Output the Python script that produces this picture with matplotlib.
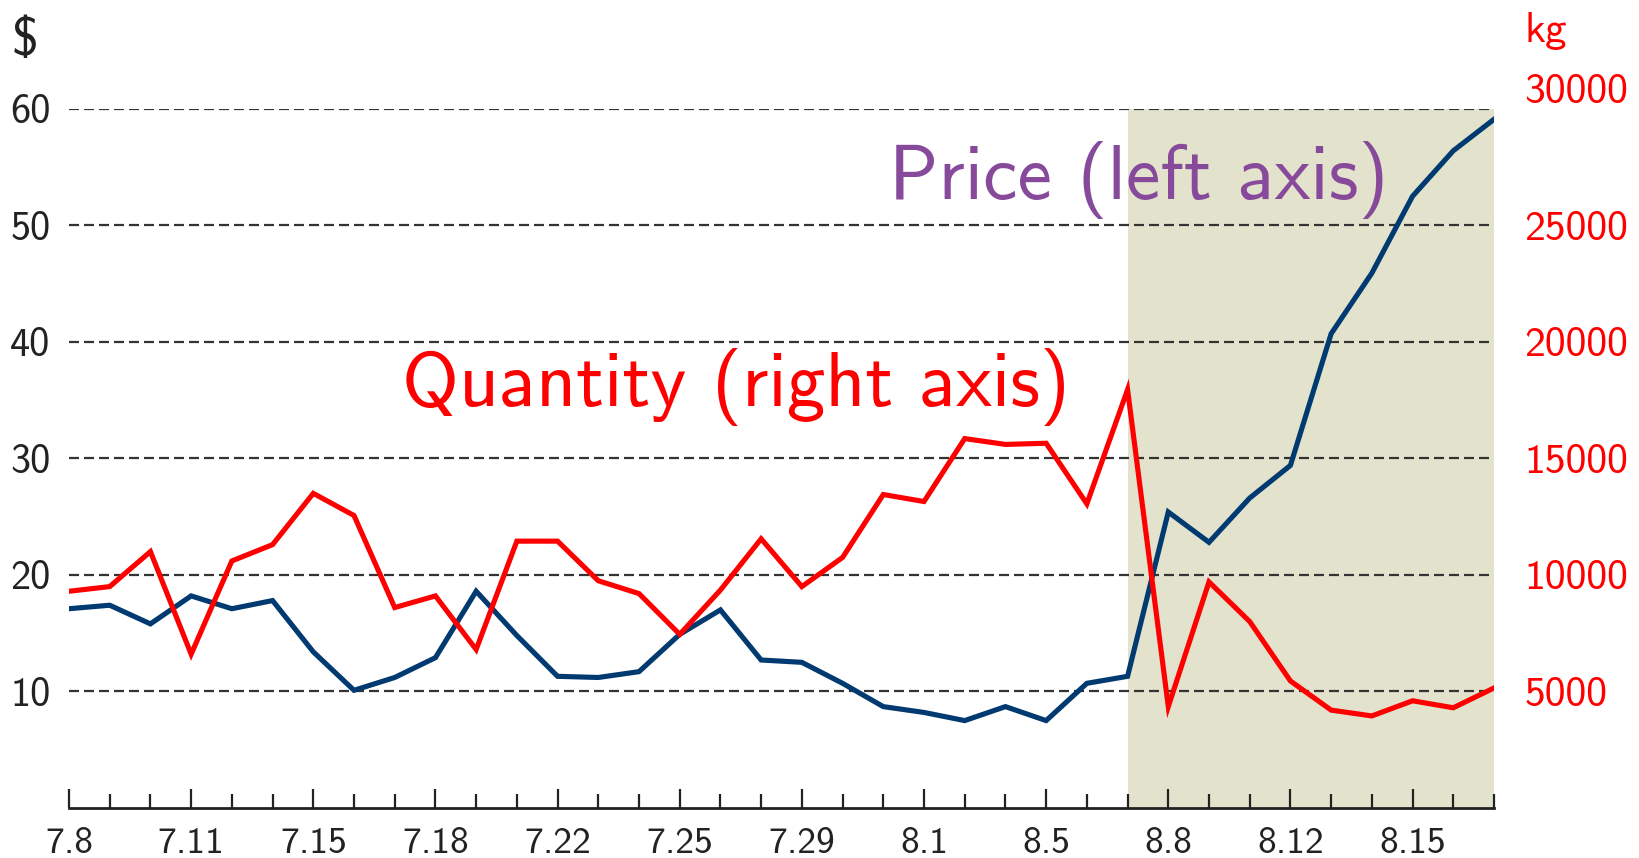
import matplotlib
matplotlib.use('Agg')
import matplotlib.pyplot as plt
from matplotlib.ticker import FixedLocator, FixedFormatter, NullFormatter
import matplotlib.transforms as mtransforms

plt.rcParams['font.family'] = ['cmss10', 'DejaVu Sans']
plt.rcParams['mathtext.fontset'] = 'cm'
plt.rcParams['axes.unicode_minus'] = False
plt.rcParams['lines.scale_dashes'] = False

# ---- data ----
n_days = 36
tick_positions = [0, 3, 6, 9, 12, 15, 18, 21, 24, 27, 30, 33]
tick_labels = ['7.8', '7.11', '7.15', '7.18', '7.22', '7.25', '7.29',
               '8.1', '8.5', '8.8', '8.12', '8.15']

price = [17.1, 17.4, 15.8, 18.2, 17.1, 17.8, 13.4, 10.1, 11.2, 12.9,
         18.6, 14.8, 11.3, 11.2, 11.7, 14.9, 17.0, 12.7, 12.5, 10.7,
         8.7, 8.2, 7.5, 8.7, 7.5, 10.7, 11.3, 25.4, 22.8, 26.6,
         29.4, 40.7, 45.9, 52.5, 56.4, 59.1]

quantity = [9300, 9500, 11000, 6600, 10600, 11300, 13500, 12550, 8600, 9100,
            6800, 11450, 11450, 9750, 9200, 7450, 9350, 11550, 9500, 10750,
            13450, 13150, 15850, 15600, 15650, 13050, 17950, 4350, 9700, 8000,
            5450, 4200, 3950, 4600, 4300, 5150]

left_ticks = [10, 20, 30, 40, 50, 60]
right_ticks = [5000, 10000, 15000, 20000, 25000, 30000]
shade_start, shade_end = 26, 35

x = list(range(n_days))

W, H = 1640, 858
fig = plt.figure(figsize=(W / 100, H / 100), dpi=100)
ax_left, ax_right_px, ax_top, ax_bot = 69, 1494, 108.8, 808
ax = fig.add_axes([ax_left / W, (H - ax_bot) / H,
                   (ax_right_px - ax_left) / W, (ax_bot - ax_top) / H])
ax2 = ax.twinx()

ax.set_xlim(0, n_days - 1)
ax.set_ylim(0, 60)
ax2.set_ylim(0, 30000)

# shaded region
ax.axvspan(shade_start, shade_end, color='#E3E3CD', zorder=0, lw=0)

# grid
ax.set_yticks(left_ticks)
ax.set_yticklabels([str(v) for v in left_ticks])
for v in left_ticks:
    ax.axhline(v, color='#333333', lw=1.6, dashes=(7.2, 3.6), zorder=1)

# lines
ax.plot(x, price, color='#003A70', lw=3.7, solid_joinstyle='miter', zorder=3)
ax2.plot(x, quantity, color='#FF0000', lw=3.7, solid_joinstyle='miter', zorder=3)

# spines
for a in (ax, ax2):
    for s in ('left', 'right', 'top'):
        a.spines[s].set_visible(False)
ax2.spines['bottom'].set_visible(False)
ax.spines['bottom'].set_linewidth(2.0)
ax.spines['bottom'].set_color('#222222')

# x ticks
ax.xaxis.set_major_locator(FixedLocator(tick_positions))
ax.xaxis.set_major_formatter(FixedFormatter(tick_labels))
ax.xaxis.set_minor_locator(FixedLocator([i for i in x if i not in tick_positions]))
ax.xaxis.set_minor_formatter(NullFormatter())
ax.tick_params(axis='x', which='major', direction='in', length=13.7, width=1.6,
               color='#222222', labelsize=27, labelcolor='#222222', pad=13.5)
ax.tick_params(axis='x', which='minor', direction='in', length=10, width=1.6,
               color='#222222')

# y ticks
ax.tick_params(axis='y', length=0, labelsize=29, labelcolor='#222222', pad=13.5)
ax2.set_yticks(right_ticks)
ax2.set_yticklabels([str(v) for v in right_ticks])
ax2.tick_params(axis='y', length=0, labelsize=30, labelcolor='#FF0000', pad=22)

# move 30000 label up
fig.canvas.draw()
for t in ax2.yaxis.get_major_ticks():
    if abs(t.get_loc() - 30000) < 1:
        lbl = t.label2
        lbl.set_transform(lbl.get_transform() +
                          mtransforms.ScaledTranslation(0, 20 / 100, fig.dpi_scale_trans))

# axis unit labels
fig.text(12 / W, 1 - 55 / H, r'\$', fontsize=39, color='#222222',
         ha='left', va='baseline')
fig.text(1525 / W, 1 - 42 / H, 'kg', fontsize=31, color='#FF0000',
         ha='left', va='baseline')

# annotations
fig.text(889 / W, 1 - 199 / H, 'Price (left axis)', fontsize=55.7,
         color='#874A9B', ha='left', va='baseline')
fig.text(402 / W, 1 - 406 / H, 'Quantity (right axis)', fontsize=55.7,
         color='#FF0000', ha='left', va='baseline')

fig.savefig('out.png', dpi=100)
